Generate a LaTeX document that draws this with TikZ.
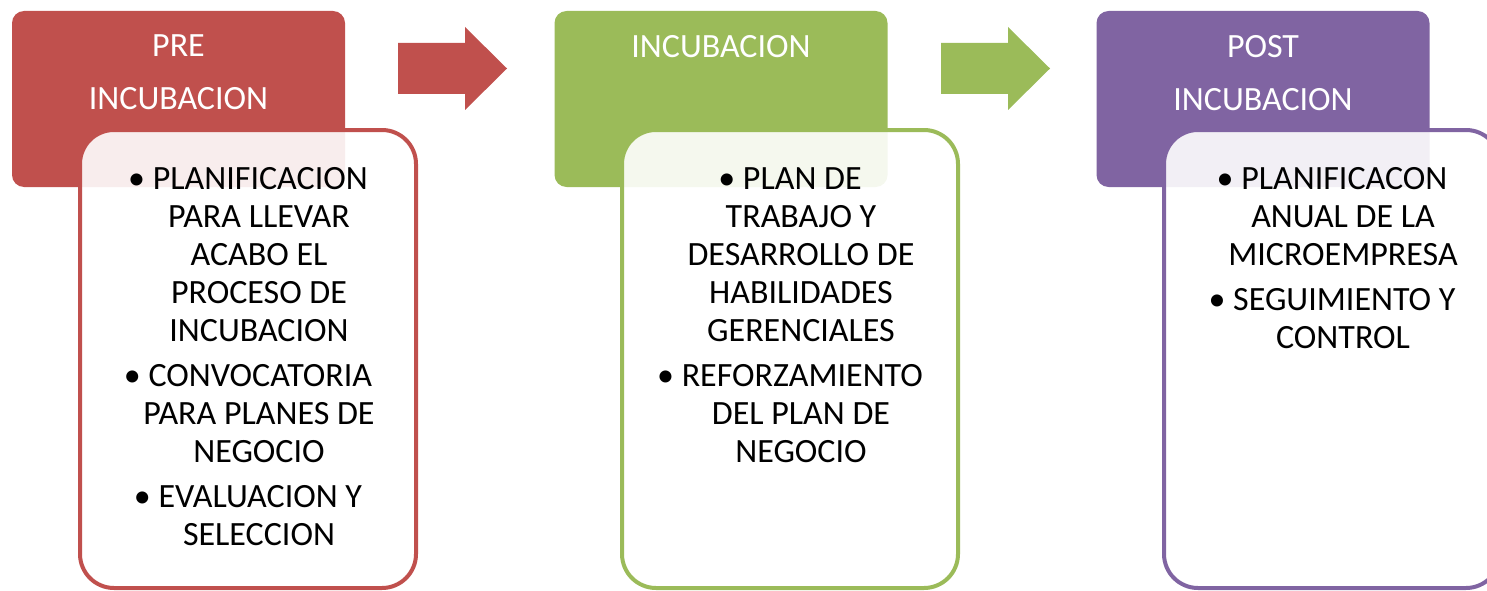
\documentclass[tikz,border=0pt]{standalone}
\usepackage{fontspec}
\setmainfont{Carlito}
\usetikzlibrary{positioning}
\definecolor{prered}{HTML}{C0504D}
\definecolor{incgreen}{HTML}{9BBB59}
\definecolor{postpurple}{HTML}{8064A2}
\newcommand{\contline}{\hspace*{22pt}}
\tikzset{
  phasebox/.style={rounded corners=12pt, fill=#1, minimum width=333pt, minimum height=176pt, inner sep=0pt},
  listbox/.style={rounded corners=34pt, draw=#1, line width=4pt, fill=white, fill opacity=0.9,
    minimum width=336pt, minimum height=458pt, inner sep=0pt},
  phasetitle/.style={text=white, align=center, inner sep=0pt, font=\fontsize{34}{53}\selectfont},
  listtext/.style={align=center, inner sep=0pt, font=\fontsize{34}{38}\selectfont},
  phasearrow/.style={fill=#1}
}
\begin{document}
\begin{tikzpicture}[x=1pt,y=1pt]
  \useasboundingbox (0,0) rectangle (1487,-591);
  % fases
  \node[phasebox=prered] (prebox) at (178.5,-99) {};
  \node[phasebox=incgreen] (incbox) at (721,-99) {};
  \node[phasebox=postpurple] (postbox) at (1263,-99) {};
  \node[phasetitle, below=24pt of prebox.north] (pretitle) {PRE\\INCUBACION};
  \node[phasetitle, below=24pt of incbox.north] (inctitle) {INCUBACION};
  \node[phasetitle, below=24pt of postbox.north] (posttitle) {POST\\INCUBACION};
  % flechas
  \fill[phasearrow=prered] (398,-43) -- (465,-43) -- (465,-27) -- (507,-68.5) -- (465,-110) -- (465,-94) -- (398,-94) -- cycle;
  \fill[phasearrow=incgreen] (941,-43) -- (1008,-43) -- (1008,-27) -- (1050,-68.5) -- (1008,-110) -- (1008,-94) -- (941,-94) -- cycle;
  % actividades
  \node[listbox=prered] (prelist) at (248,-359) {};
  \node[listbox=incgreen] (inclist) at (790,-359) {};
  \node[listbox=postpurple] (postlist) at (1332,-359) {};
  \node[listtext, below=39pt of prelist.north] (pretext) {%
    \textbullet\ PLANIFICACION\\ \contline PARA LLEVAR\\ \contline ACABO EL\\ \contline PROCESO DE\\ \contline INCUBACION\\[7pt]
    \textbullet\ CONVOCATORIA\\ \contline PARA PLANES DE\\ \contline NEGOCIO\\[7pt]
    \textbullet\ EVALUACION Y\\ \contline SELECCION};
  \node[listtext, below=39pt of inclist.north] (inctext) {%
    \textbullet\ PLAN DE\\ \contline TRABAJO Y\\ \contline DESARROLLO DE\\ \contline HABILIDADES\\ \contline GERENCIALES\\[7pt]
    \textbullet\ REFORZAMIENTO\\ \contline DEL PLAN DE\\ \contline NEGOCIO};
  \node[listtext, below=39pt of postlist.north] (posttext) {%
    \textbullet\ PLANIFICACON\\ \contline ANUAL DE LA\\ \contline MICROEMPRESA\\[7pt]
    \textbullet\ SEGUIMIENTO Y\\ \contline CONTROL};
\end{tikzpicture}
\end{document}
